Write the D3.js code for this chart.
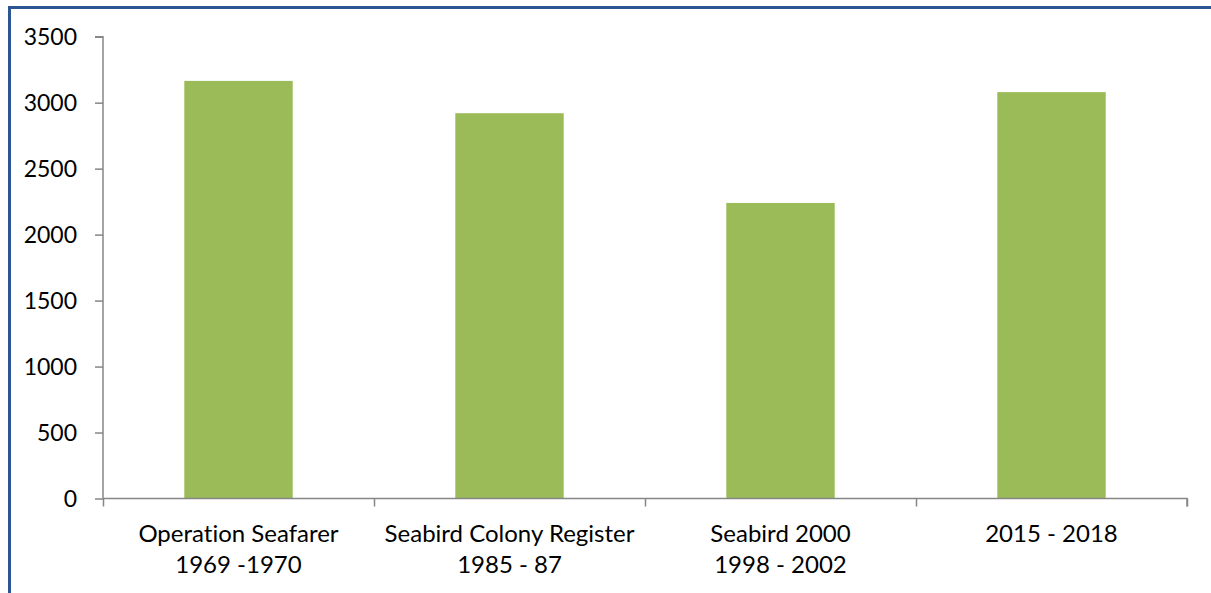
<!DOCTYPE html>
<html><head><meta charset="utf-8">
<script src="https://cdn.jsdelivr.net/npm/d3@7"></script>
<style>body{margin:0;background:#fff;}svg{display:block;}text{font-variant-ligatures:none;}</style>
</head><body>
<svg id="c" width="1211" height="593"></svg>
<script>
const categories = [["Operation Seafarer","1969 -1970"],["Seabird Colony Register","1985 - 87"],["Seabird 2000","1998 - 2002"],["2015 - 2018"]];
const values = [3165, 2920, 2240, 3080];
const yTicks = [0,500,1000,1500,2000,2500,3000,3500];

(function(){
const svg = d3.select("#c");
const font = "Lato, 'Open Sans', sans-serif";
// frame
svg.append("rect").attr("x",9.5).attr("y",7.5).attr("width",1211).attr("height",600)
  .attr("fill","none").attr("stroke","#2B5593").attr("stroke-width",3);

const pL=103, pR=1187, pT=36.7, pB=498.5;
const x = d3.scaleBand().domain(d3.range(categories.length)).range([pL,pR]).paddingInner(0.6).paddingOuter(0.3);
const y = d3.scaleLinear().domain([0,3500]).range([pB,pT]);

svg.selectAll("rect.bar").data(values).enter().append("rect").attr("class","bar")
  .attr("x",(d,i)=>x(i)).attr("width",x.bandwidth())
  .attr("y",d=>y(d)).attr("height",d=>pB-y(d)).attr("fill","#9BBB59");

const axisColor="#868686";
const ya = svg.append("g").attr("transform",`translate(${pL},0)`)
  .call(d3.axisLeft(y).tickValues(yTicks).tickSize(8).tickPadding(18).tickFormat(d3.format("d")));
ya.select(".domain").attr("stroke",axisColor).attr("stroke-width",1.5).attr("d",`M-8,${pT}H0V${pB}`);
ya.selectAll(".tick line").attr("stroke",axisColor).attr("stroke-width",1.5);
ya.selectAll("text").attr("font-family",font).attr("font-size",23).attr("fill","#000").attr("dy","0.35em");

const xb = d3.scaleLinear().domain([0,categories.length]).range([pL,pR]);
const xa = svg.append("g").attr("transform",`translate(0,${pB})`)
  .call(d3.axisBottom(xb).tickValues(d3.range(categories.length+1)).tickSize(8).tickFormat(""));
xa.select(".domain").attr("stroke",axisColor).attr("stroke-width",1.5).attr("d",`M${pL},0H${pR}V8`);
xa.selectAll(".tick line").attr("stroke",axisColor).attr("stroke-width",1.5);

const lab = svg.append("g");
categories.forEach((lines,i)=>{
  const cx = x(i)+x.bandwidth()/2;
  const t = lab.append("text").attr("text-anchor","middle").attr("font-family",font).attr("font-size",24).attr("fill","#000");
  lines.forEach((l,j)=>t.append("tspan").attr("x",cx).attr("y",541.5+j*31.6).text(l));
});
})();
</script>
</body></html>
